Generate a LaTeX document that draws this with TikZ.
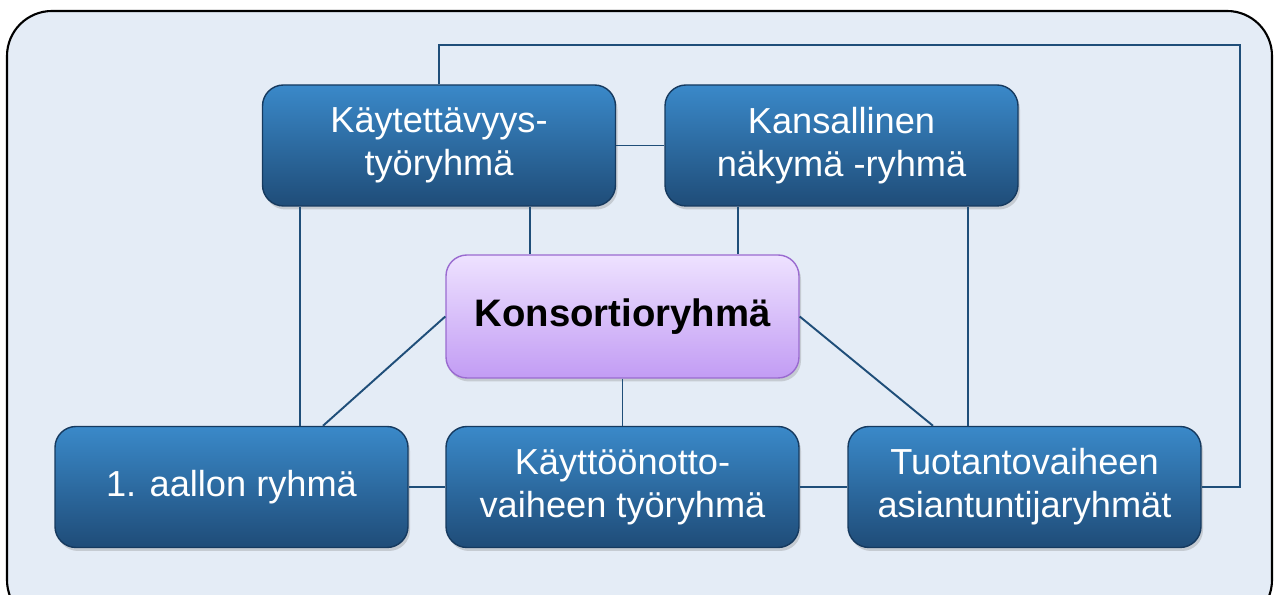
\documentclass[tikz,border=0pt]{standalone}
\usepackage{fontspec}
\setmainfont{Liberation Sans}
\usepackage{xcolor}
\usepackage{tikz}
\usetikzlibrary{shadows}

\definecolor{panel}{HTML}{E4ECF6}
\definecolor{linkblue}{HTML}{1F4E79}
\definecolor{boxtop}{HTML}{3A89C9}
\definecolor{boxbot}{HTML}{1F4C78}
\definecolor{boxline}{HTML}{163A5F}
\definecolor{lilatop}{HTML}{EEE2FF}
\definecolor{lilabot}{HTML}{C29CF4}
\definecolor{lilaline}{HTML}{9A6BD0}

\begin{document}
\begin{tikzpicture}[
  group/.style={rectangle, rounded corners=0.42cm, draw=boxline, line width=0.8pt,
    top color=boxtop, bottom color=boxbot, text=white, align=center,
    minimum width=7.06cm, minimum height=2.42cm,
    font=\fontsize{20.6}{24.5}\selectfont,
    drop shadow={opacity=0.3, shadow xshift=0.04cm, shadow yshift=-0.07cm}},
  core/.style={group, draw=lilaline, top color=lilatop, bottom color=lilabot,
    text=black, minimum height=2.46cm, font=\fontsize{21.8}{24.5}\selectfont\bfseries},
  link/.style={draw=linkblue, line width=1.1pt}
]

% Canvas and panel
\clip (0,0) rectangle (25.48,11.9);
\draw[fill=panel, line width=1.2pt, rounded corners=0.9cm] (0.14,-0.6) rectangle (25.44,11.68);

% Upper row
\node[group] (kaytettavyys) at (8.78, 8.99) {Käytettävyys-\\työryhmä};
\node[group] (kansallinen) at (16.83, 8.99) {Kansallinen\\näkymä -ryhmä};

% Centre
\node[core] (konsortio) at (12.45, 5.57) {Konsortioryhmä};

% Lower row
\node[group] (aalto) at (4.63, 2.16) {1. aallon ryhmä};
\node[group] (kayttoonotto) at (12.45, 2.16) {Käyttöönotto-\\vaiheen työryhmä};
\node[group] (tuotanto) at (20.49, 2.16) {Tuotantovaiheen\\asiantuntijaryhmät};

% Loop round the right side
\coordinate (kierto) at (24.8, 11.0);

% Links
\draw[link] (kaytettavyys.north) |- (kierto) |- (tuotanto.east);
\draw[link] (kaytettavyys.east) -- (kansallinen.west);
\draw[link] (kaytettavyys.south -| 6.0,0) -- (aalto.north -| 6.0,0);
\draw[link] (kaytettavyys.south -| 10.6,0) -- (konsortio.north -| 10.6,0);
\draw[link] (kansallinen.south -| 14.76,0) -- (konsortio.north -| 14.76,0);
\draw[link] (kansallinen.south -| 19.36,0) -- (tuotanto.north -| 19.36,0);
\draw[link] (konsortio.west) -- (aalto.north -| 6.46,0);
\draw[link] (konsortio.east) -- (tuotanto.north -| 18.66,0);
\draw[link] (konsortio.south) -- (kayttoonotto.north);
\draw[link] (aalto.east) -- (kayttoonotto.west);
\draw[link] (kayttoonotto.east) -- (tuotanto.west);

\end{tikzpicture}
\end{document}
